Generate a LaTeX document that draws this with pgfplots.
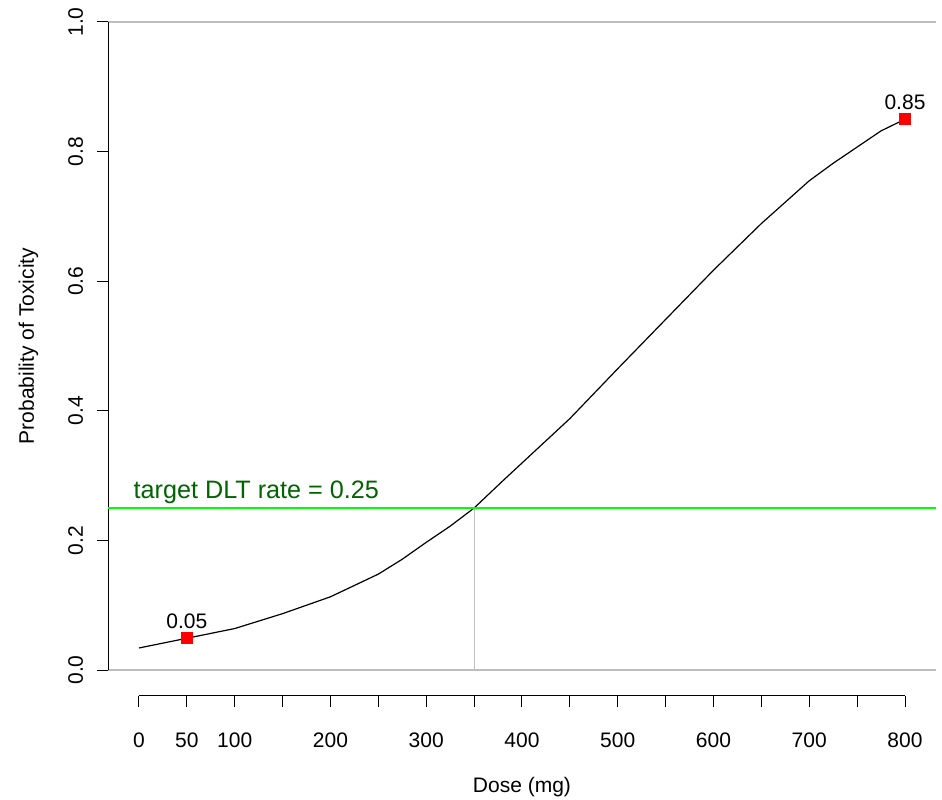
\documentclass[border=0pt]{standalone}
\usepackage{fontspec}
\setmainfont{Liberation Sans}
\usepackage{pgfplots}
\pgfplotsset{compat=1.18}
\definecolor{rgreen}{HTML}{00FF00}
\definecolor{rdkgreen}{HTML}{006400}
\definecolor{rgray}{HTML}{BEBEBE}
\definecolor{rred}{HTML}{FF0000}
\begin{document}
\begin{tikzpicture}[x=1pt,y=1pt]
\useasboundingbox (0,0) rectangle (471,399.5);
\begin{axis}[
  at={(54.18pt,51.54pt)}, anchor=south west,
  scale only axis, width=413.64pt, height=349.92pt,
  xmin=-32, xmax=832, ymin=-0.04, ymax=1.04,
  clip=false,
  axis line style={draw=none},
  xtick={0,50,...,800},
  xticklabels={0,50,100,,200,,300,,400,,500,,600,,700,,800},
  ytick={0,0.2,0.4,0.6,0.8,1.0},
  yticklabels={0.0,0.2,0.4,0.6,0.8,1.0},
  xtick pos=bottom, ytick pos=left,
  tick align=outside, major tick length=5.5pt,
  tick style={black, line width=0.5pt},
  /pgf/number format/assume math mode=true,
  ticklabel style={font=\fontsize{10.5}{12}\selectfont, inner sep=0pt},
  xticklabel style={anchor=north},
  yticklabel style={rotate=90, anchor=south},
  xticklabel shift=13pt,
  yticklabel shift=7pt,
  xlabel={Dose (mg)},
  xlabel style={at={(axis cs:400,-0.1898)}, anchor=base, inner sep=0pt, font=\fontsize{10.5}{12}\selectfont},
  ylabel={Probability of Toxicity},
  ylabel style={at={(axis cs:-109.7,0.5)}, anchor=base, rotate=0, inner sep=0pt, font=\fontsize{10.5}{12}\selectfont},
]
% reference lines
\addplot[rgray, line width=0.6pt] coordinates {(-32,1) (832,1)};
\addplot[rgray, line width=0.6pt] coordinates {(-32,0) (832,0)};
\addplot[rgray, line width=0.6pt] coordinates {(350,0) (350,0.25)};
% axis lines
\draw[black, line width=0.5pt] (axis cs:-32,0) -- (axis cs:-32,1);
\draw[black, line width=0.5pt] (axis cs:0,-0.04) -- (axis cs:800,-0.04);
% dose-toxicity curve
\addplot[black, line width=0.6pt] coordinates {
(0,0.034) (50,0.049) (100,0.064) (150,0.087) (200,0.113) (250,0.148)
(275,0.171) (300,0.197) (325,0.222) (350,0.250) (380,0.292) (415,0.340)
(450,0.388) (500,0.465) (550,0.541) (600,0.617) (650,0.689)
(700,0.755) (725,0.782) (775,0.832) (800,0.85)};
% target line
\addplot[rgreen, line width=0.6pt] coordinates {(-32,0.25) (832,0.25)};
\node[rdkgreen, anchor=base west, inner sep=0pt, font=\fontsize{12.6}{14}\selectfont] at (axis cs:-6,0.265) {target DLT rate = 0.25};
% points
\addplot[only marks, mark=square*, mark size=2.75pt, mark options={fill=rred, draw=rred},
  point meta=explicit symbolic, nodes near coords,
  nodes near coords style={anchor=south, inner sep=0pt, yshift=4.5pt, black, font=\fontsize{10.5}{12}\selectfont}]
  coordinates {(50,0.05) [0.05] (800,0.85) [0.85]};
\end{axis}
\end{tikzpicture}
\end{document}
